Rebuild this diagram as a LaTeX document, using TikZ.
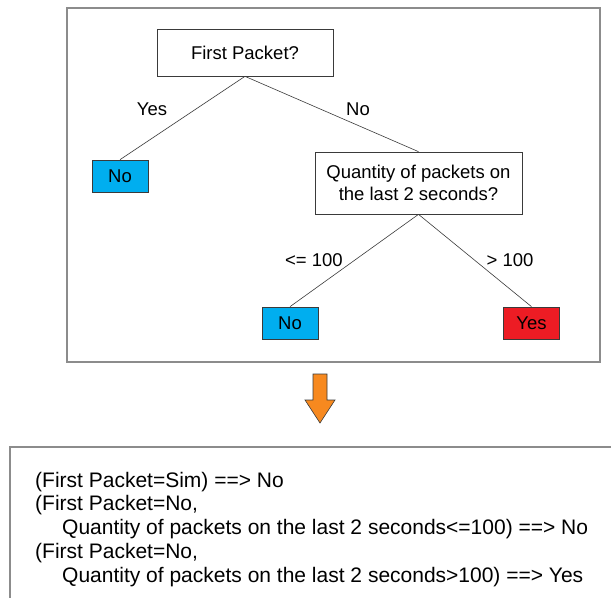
\documentclass[tikz,border=0pt]{standalone}
\usepackage{fontspec}
\setmainfont{Liberation Sans}
\definecolor{leafblue}{HTML}{00AEEF}
\definecolor{leafred}{HTML}{ED1C24}
\definecolor{arroworange}{HTML}{F7891F}
\definecolor{framegray}{HTML}{8C8C8C}
\definecolor{edgegray}{HTML}{3A3A3A}
\begin{document}
\begin{tikzpicture}[x=1pt,y=-1pt,
  treefont/.style={font=\fontsize{18.5}{22}\selectfont},
  testbox/.style={draw=edgegray, line width=0.7pt, fill=white, inner sep=0pt, treefont, align=center},
  leafbox/.style={draw=edgegray, line width=0.7pt, inner sep=0pt, minimum width=56pt, minimum height=32pt, treefont},
  branch/.style={draw=edgegray, line width=0.6pt},
  branchlabel/.style={treefont, inner sep=0pt},
  ruletext/.style={font=\fontsize{21}{23.5}\selectfont, inner sep=0pt, anchor=base west}
]
\useasboundingbox (0,0) rectangle (611,598);

% frame around the tree
\draw[framegray, line width=1.4pt] (67,8) rectangle (600,362);

% tree nodes
\node[testbox, minimum width=176pt, minimum height=47pt] (root) at (245,52.5) {First Packet?};
\node[leafbox, fill=leafblue] (leafA) at (120,176) {No};
\node[testbox, minimum width=207pt, minimum height=62pt] (qty) at (418.5,183) {Quantity of packets on\\the last 2 seconds?};
\node[leafbox, fill=leafblue] (leafB) at (290,323) {No};
\node[leafbox, fill=leafred] (leafC) at (531.5,323) {Yes};

% branches
\draw[branch] (root.south) -- (leafA.north);
\draw[branch] (root.south) -- (qty.north);
\draw[branch] (qty.south) -- (leafB.north);
\draw[branch] (qty.south) -- (leafC.north);

% branch labels
\node[branchlabel] (lyes) at (152,109) {Yes};
\node[branchlabel] (lno) at (358,109) {No};
\node[branchlabel] (lle) at (314,260) {<= 100};
\node[branchlabel] (lgt) at (510,260) {> 100};

% down arrow between tree and rules
\filldraw[fill=arroworange, draw=edgegray, line width=0.6pt, line join=miter]
  (313,374) -- (327,374) -- (327,400) -- (335,400) -- (320,423) -- (305,400) -- (313,400) -- cycle;

% rules frame (open to the right and bottom)
\draw[framegray, line width=1.4pt] (611,447) -- (10,447) -- (10,598);

% extracted rules
\node[ruletext] (r1) at (35,487) {(First Packet=Sim) ==> No};
\node[ruletext] (r2) at (35,510.75) {(First Packet=No,};
\node[ruletext] (r3) at (62,534.5) {Quantity of packets on the last 2 seconds<=100) ==> No};
\node[ruletext] (r4) at (35,558.25) {(First Packet=No,};
\node[ruletext] (r5) at (62,582) {Quantity of packets on the last 2 seconds>100) ==> Yes};
\end{tikzpicture}
\end{document}
